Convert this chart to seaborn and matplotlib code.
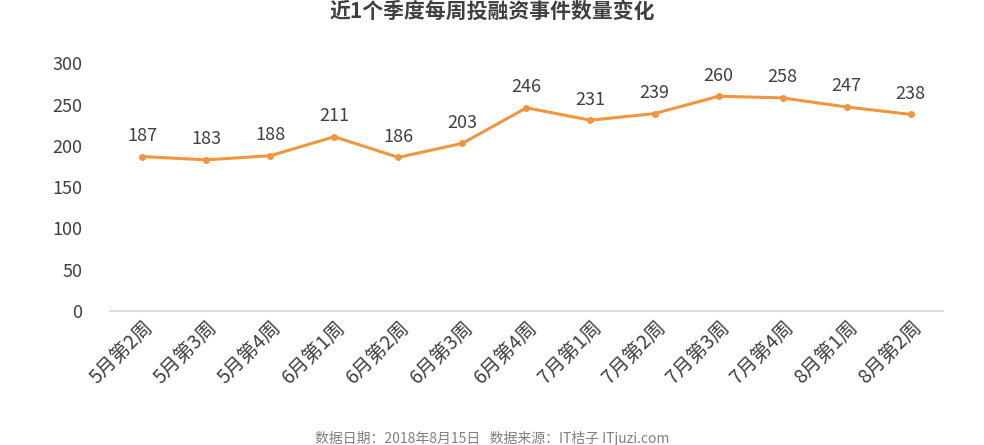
import matplotlib.pyplot as plt
import seaborn as sns
import pandas as pd

weeks = ["5月第2周", "5月第3周", "5月第4周", "6月第1周", "6月第2周", "6月第3周", "6月第4周",
         "7月第1周", "7月第2周", "7月第3周", "7月第4周", "8月第1周", "8月第2周"]
counts = [187, 183, 188, 211, 186, 203, 246, 231, 239, 260, 258, 247, 238]
yticks = [0, 50, 100, 150, 200, 250, 300]

sns.set_theme(style="white")
plt.rcParams['font.family'] = ['Noto Sans CJK SC', 'DejaVu Sans']

df = pd.DataFrame({"week": weeks, "count": counts})
fig = plt.figure(figsize=(9.84, 4.45), dpi=100)
ax = fig.add_axes([0.112, 0.301, 0.846, 0.557])
sns.lineplot(data=df, x="week", y="count", ax=ax, color="#F0963F", linewidth=2.2,
             marker="o", markersize=5, markeredgewidth=0, sort=False)
for i, v in enumerate(counts):
    ax.text(i, v + 14, str(v), ha="center", va="bottom", fontsize=13, color="#404040")

ax.set_ylim(0, 300)
ax.set_xlim(-0.5, len(weeks) - 0.5)
ax.set_yticks(yticks)
ax.tick_params(axis="y", labelsize=13, colors="#404040", length=0, pad=20)
ax.tick_params(axis="x", labelsize=14, colors="#404040", length=0, pad=4)
plt.setp(ax.get_xticklabels(), rotation=45, ha="right", rotation_mode="anchor")
ax.set_xlabel("")
ax.set_ylabel("")
for s in ["top", "right", "left"]:
    ax.spines[s].set_visible(False)
ax.spines["bottom"].set_color("#D9D9D9")

fig.text(0.5, 0.975, "近1个季度每周投融资事件数量变化", ha="center", va="center",
         fontsize=15, fontweight="bold", color="#404040")
fig.text(0.5, 0.015, "数据日期：2018年8月15日   数据来源：IT桔子 ITjuzi.com", ha="center",
         va="center", fontsize=10, color="#808080")

fig.savefig("out.png", dpi=100)
